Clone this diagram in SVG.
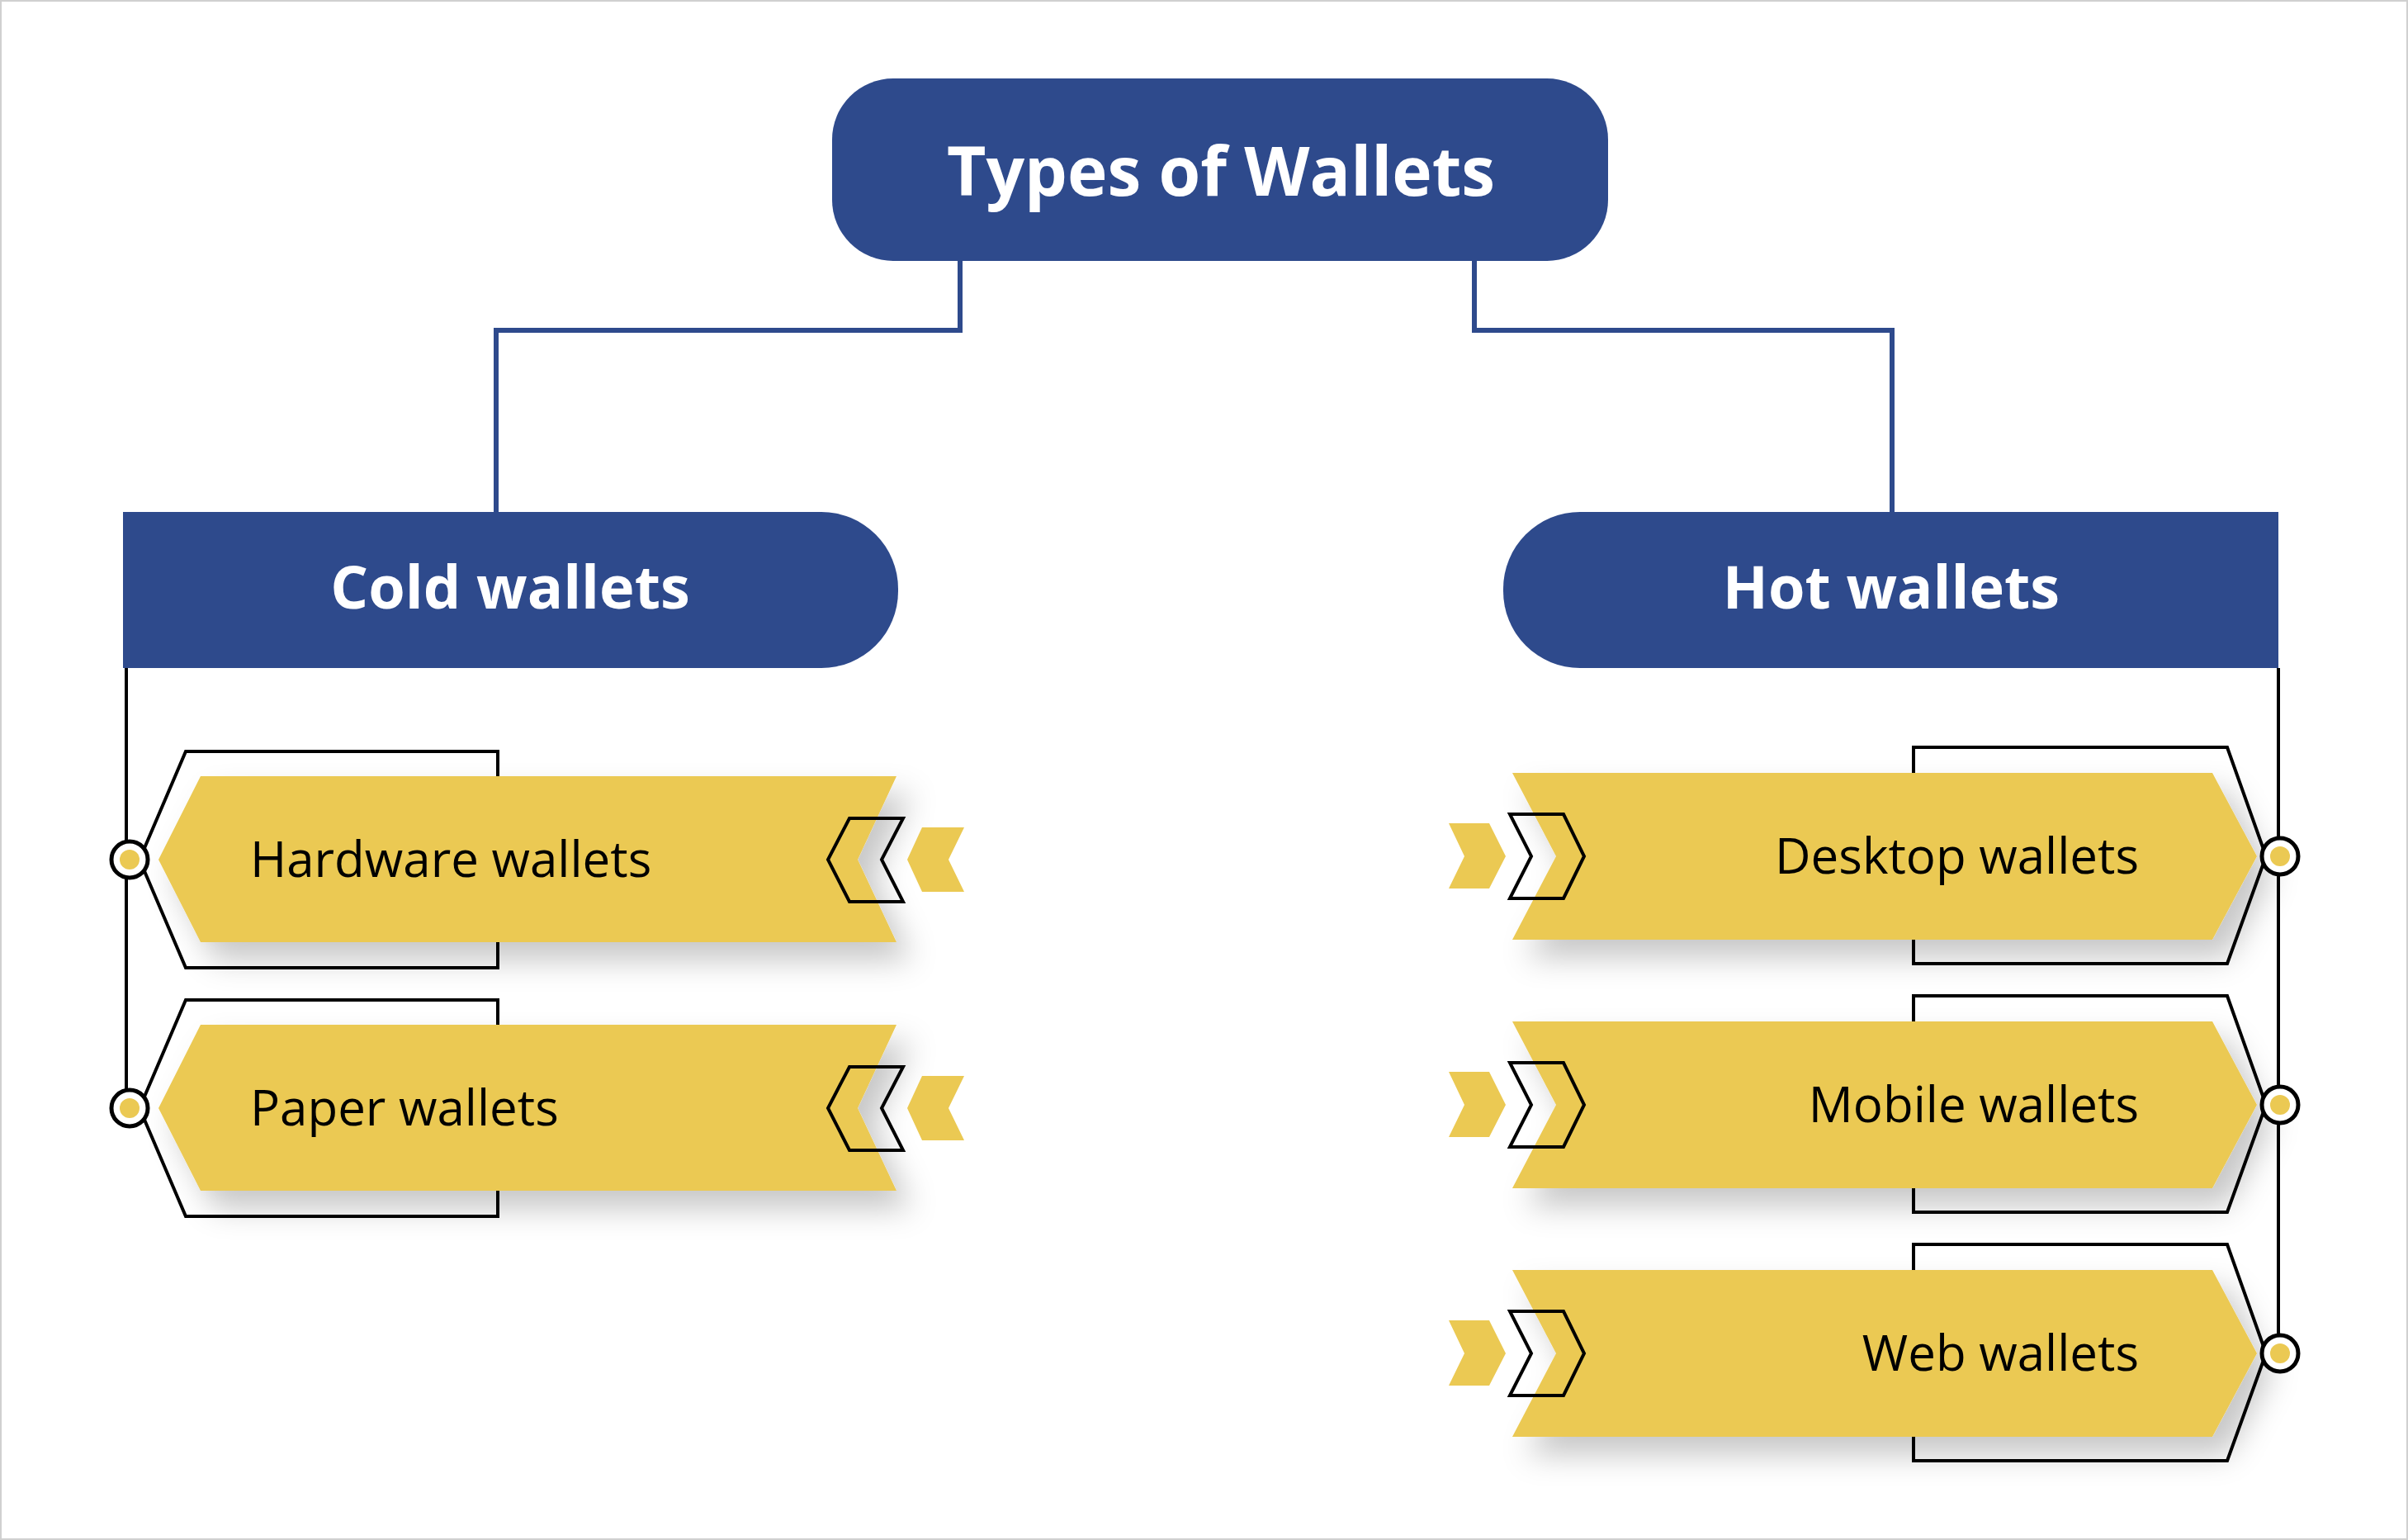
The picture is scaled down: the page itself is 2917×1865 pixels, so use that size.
<svg xmlns="http://www.w3.org/2000/svg" width="2917" height="1865" viewBox="0 0 2917 1865">
<defs>
<filter id="sh" x="-10%" y="-20%" width="130%" height="160%"><feDropShadow dx="18" dy="22" stdDeviation="18" flood-color="#000" flood-opacity="0.22"/></filter>
<style>
.hdr{fill:#2E4A8C}
.ht{fill:#fff;font-family:"Open Sans",sans-serif;font-weight:700;text-anchor:middle}
.conn{fill:none;stroke:#2E4A8C;stroke-width:6}
.bl{fill:none;stroke:#000;stroke-width:4}
.ol{fill:#fff;stroke:#000;stroke-width:4}
.y{fill:#EBC953}
.it{fill:#000;font-family:"Open Sans",sans-serif;font-size:60px}
.dot{fill:#fff;stroke:#000;stroke-width:5}
</style>
<g id="leftItem">
<polygon class="ol" points="169,1041 225,910 603,910 603,1172 225,1172"/>
<polygon class="y" filter="url(#sh)" points="192,1041 243,940 1086,940 1039,1041 1086,1141 243,1141"/>
<polygon class="bl" points="1029,991 1094,991 1068,1041 1094,1092 1029,1092 1003,1041"/>
<polygon class="y" points="1117,1002 1168,1002 1149,1041 1168,1080 1117,1080 1099,1041"/>
<circle class="dot" cx="157" cy="1041" r="22"/><circle class="y" cx="157" cy="1041" r="12"/>
</g>
<g id="rightItem">
<polygon class="ol" points="2745,1037 2698,905 2318,905 2318,1167 2698,1167"/>
<polygon class="y" filter="url(#sh)" points="1832,936 2680,936 2734,1037 2680,1138 1832,1138 1885,1037"/>
<polygon class="bl" points="1829,986 1894,986 1919,1037 1894,1088 1829,1088 1855,1037"/>
<polygon class="y" points="1755,997 1804,997 1824,1037 1804,1076 1755,1076 1774,1037"/>
<circle class="dot" cx="2762" cy="1037" r="22"/><circle class="y" cx="2762" cy="1037" r="12"/>
</g>
</defs>
<rect x="1" y="1" width="2915" height="1863" fill="#fff" stroke="#d0d0d0" stroke-width="2"/>
<g id="connectors">
<polyline class="conn" points="1163,316 1163,400 601,400 601,622"/>
<polyline class="conn" points="1786,316 1786,400 2292,400 2292,622"/>
<line class="bl" x1="153" y1="809" x2="153" y2="1341"/>
<line class="bl" x1="2760" y1="809" x2="2760" y2="1639"/>
</g>
<g id="root">
<rect class="hdr" x="1008" y="95" width="940" height="221" rx="74"/>
<text class="ht" x="1479" y="237" font-size="82">Types of  Wallets</text>
</g>
<g id="cold">
<path class="hdr" d="M149,620 H995 A93,93 0 0 1 1088,713 V716 A93,93 0 0 1 995,809 H149 Z"/>
<text class="ht" x="618" y="737" font-size="72">Cold wallets</text>
</g>
<g id="hot">
<path class="hdr" d="M2760,620 H1914 A93,93 0 0 0 1821,713 V716 A93,93 0 0 0 1914,809 H2760 Z"/>
<text class="ht" x="2291" y="737" font-size="72">Hot wallets</text>
</g>
<g id="hardware"><use href="#leftItem"/><text class="it" x="303" y="1062">Hardware wallets</text></g>
<g id="paper"><use href="#leftItem" y="301"/><text class="it" x="303" y="1363">Paper wallets</text></g>
<g id="desktop"><use href="#rightItem"/><text class="it" x="2591" y="1058" text-anchor="end">Desktop wallets</text></g>
<g id="mobile"><use href="#rightItem" y="301"/><text class="it" x="2591" y="1359" text-anchor="end">Mobile wallets</text></g>
<g id="web"><use href="#rightItem" y="602"/><text class="it" x="2591" y="1660" text-anchor="end">Web wallets</text></g>
</svg>
